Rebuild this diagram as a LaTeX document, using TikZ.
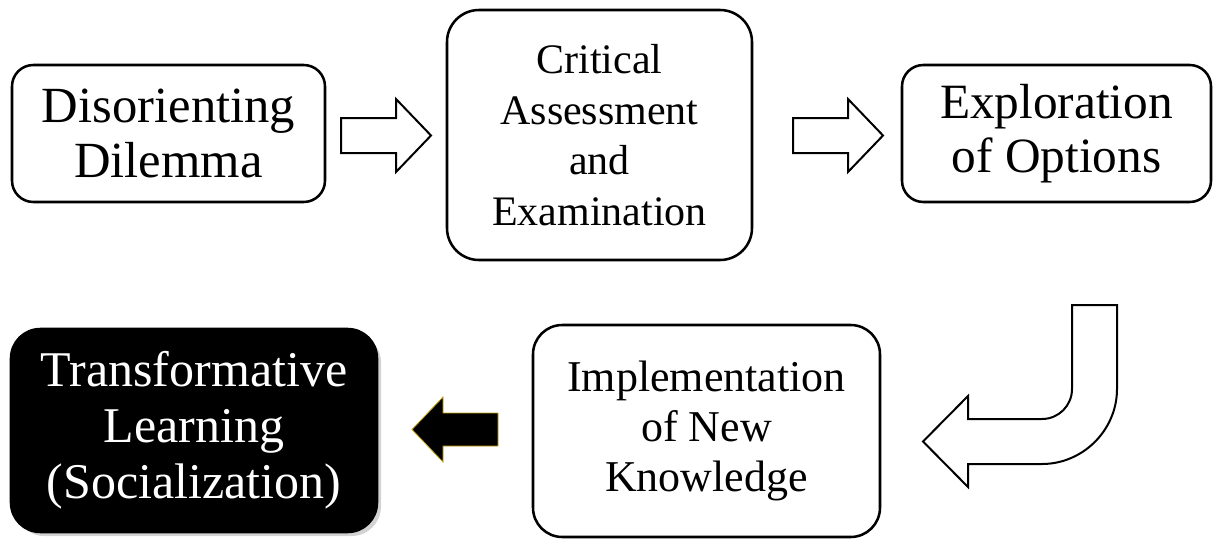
\documentclass[tikz,border=0pt]{standalone}
\usepackage{fontspec}
\setmainfont{Liberation Serif}
\usetikzlibrary{shadows}
\definecolor{goldedge}{RGB}{205,165,20}
\begin{document}
\begin{tikzpicture}[x=0.75pt,y=-0.75pt,
  box/.style={draw=black, line width=1.9pt, align=center, inner sep=0pt, fill=white},
  blockarrow/.style={draw=black, line width=1.5pt, fill=white, line join=miter}]
\useasboundingbox (0,0) rectangle (1217,540);
% boxes
\node[box, rounded corners=16pt, minimum width=313*0.75pt, minimum height=137*0.75pt, font=\fontsize{38pt}{41pt}\selectfont] (b1) at (168.5,133.5) {Disorienting\\Dilemma};
\node[box, rounded corners=24pt, minimum width=305*0.75pt, minimum height=250*0.75pt, font=\fontsize{31.5pt}{38pt}\selectfont] (b2) at (599.5,135) {Critical\\Assessment\\and\\Examination};
\node[box, rounded corners=16pt, minimum width=309*0.75pt, minimum height=137*0.75pt, font=\fontsize{37pt}{41pt}\selectfont] (b3) at (1056.5,133.5) {Exploration\\of Options};
\node[box, rounded corners=22pt, minimum width=347*0.75pt, minimum height=212*0.75pt, font=\fontsize{33pt}{37.5pt}\selectfont] (b4) at (706.5,431) {Implementation\\of New\\Knowledge};
\node[box, fill=black, text=white, rounded corners=22pt, minimum width=366*0.75pt, minimum height=203*0.75pt,
  drop shadow={shadow xshift=3pt, shadow yshift=-3pt, opacity=0.35},
  font=\fontsize{37.5pt}{42pt}\selectfont] (b5) at (194,430.5) {Transformative\\Learning\\(Socialization)};
% block arrows
\draw[blockarrow] (341,118) -- (396,118) -- (396,99) -- (431,135.5) -- (396,172) -- (396,153) -- (341,153) -- cycle;
\draw[blockarrow] (793,118) -- (848,118) -- (848,99) -- (883,135.5) -- (848,172) -- (848,153) -- (793,153) -- cycle;
% curved arrow
\draw[blockarrow] (1072,305) -- (1117,305) -- (1117,389)
  .. controls (1117,430) and (1083,464) .. (1042,464)
  -- (968,464) -- (968,487) -- (923,441.5) -- (968,396) -- (968,419) -- (1042,419)
  .. controls (1058.6,419) and (1072,405.6) .. (1072,389) -- cycle;
% black arrow
\draw[draw=goldedge, line width=0.6pt, fill=black] (498,413) -- (443,413) -- (443,397) -- (412,429.5) -- (443,462) -- (443,446) -- (498,446) -- cycle;
\end{tikzpicture}
\end{document}
